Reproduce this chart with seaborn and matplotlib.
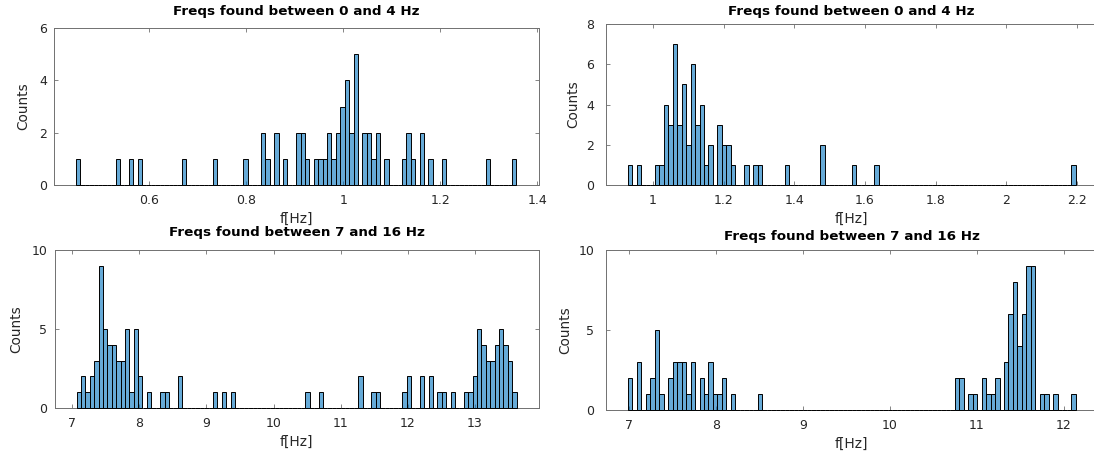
import numpy as np
import pandas as pd
import matplotlib
matplotlib.use("Agg")
import matplotlib.pyplot as plt
import seaborn as sns

# Bin counts: 100 equal-width bins spanning [low, high] of each frequency set
counts_top_left = [
    1, 0, 0, 0, 0, 0, 0, 0, 0, 1,
    0, 0, 1, 0, 1, 0, 0, 0, 0, 0,
    0, 0, 0, 0, 1, 0, 0, 0, 0, 0,
    0, 1, 0, 0, 0, 0, 0, 0, 1, 0,
    0, 0, 2, 1, 0, 2, 0, 1, 0, 0,
    2, 2, 1, 0, 1, 1, 1, 2, 1, 2,
    3, 4, 2, 5, 0, 2, 2, 1, 2, 0,
    1, 0, 0, 0, 1, 2, 1, 0, 2, 0,
    1, 0, 0, 1, 0, 0, 0, 0, 0, 0,
    0, 0, 0, 1, 0, 0, 0, 0, 0, 1,
]
counts_top_right = [
    1, 0, 1, 0, 0, 0, 1, 1, 4, 3,
    7, 3, 5, 2, 6, 3, 4, 1, 2, 0,
    3, 2, 2, 1, 0, 0, 1, 0, 1, 1,
    0, 0, 0, 0, 0, 1, 0, 0, 0, 0,
    0, 0, 0, 2, 0, 0, 0, 0, 0, 0,
    1, 0, 0, 0, 0, 1, 0, 0, 0, 0,
    0, 0, 0, 0, 0, 0, 0, 0, 0, 0,
    0, 0, 0, 0, 0, 0, 0, 0, 0, 0,
    0, 0, 0, 0, 0, 0, 0, 0, 0, 0,
    0, 0, 0, 0, 0, 0, 0, 0, 0, 1,
]
counts_bottom_left = [
    1, 2, 1, 2, 3, 9, 5, 4, 4, 3,
    3, 5, 1, 5, 2, 0, 1, 0, 0, 1,
    1, 0, 0, 2, 0, 0, 0, 0, 0, 0,
    0, 1, 0, 1, 0, 1, 0, 0, 0, 0,
    0, 0, 0, 0, 0, 0, 0, 0, 0, 0,
    0, 0, 1, 0, 0, 1, 0, 0, 0, 0,
    0, 0, 0, 0, 2, 0, 0, 1, 1, 0,
    0, 0, 0, 0, 1, 2, 0, 0, 2, 0,
    2, 0, 1, 1, 0, 1, 0, 0, 1, 1,
    2, 5, 4, 3, 3, 4, 5, 4, 3, 1,
]
counts_bottom_right = [
    2, 0, 3, 0, 1, 2, 5, 1, 0, 2,
    3, 3, 3, 1, 3, 0, 2, 1, 3, 1,
    1, 2, 0, 1, 0, 0, 0, 0, 0, 1,
    0, 0, 0, 0, 0, 0, 0, 0, 0, 0,
    0, 0, 0, 0, 0, 0, 0, 0, 0, 0,
    0, 0, 0, 0, 0, 0, 0, 0, 0, 0,
    0, 0, 0, 0, 0, 0, 0, 0, 0, 0,
    0, 0, 0, 2, 2, 0, 1, 1, 0, 2,
    1, 1, 2, 0, 3, 6, 8, 4, 6, 9,
    9, 0, 1, 1, 0, 1, 0, 0, 0, 1,
]

# Data range covered by the bins of each set
range_top_left = [0.4493, 1.3567]
range_top_right = [0.9291, 2.1963]
range_bottom_left = [7.0638, 13.6187]
range_bottom_right = [6.9885, 12.1384]

titles = ["Freqs found between 0 and 4 Hz", "Freqs found between 0 and 4 Hz",
          "Freqs found between 7 and 16 Hz", "Freqs found between 7 and 16 Hz"]

xticks_top_left = [0.6, 0.8, 1.0, 1.2, 1.4]
xticklabels_top_left = ["0.6", "0.8", "1", "1.2", "1.4"]
xticks_top_right = [1.0, 1.2, 1.4, 1.6, 1.8, 2.0, 2.2]
xticklabels_top_right = ["1", "1.2", "1.4", "1.6", "1.8", "2", "2.2"]
xticks_bottom_left = [7, 8, 9, 10, 11, 12, 13]
xticks_bottom_right = [7, 8, 9, 10, 11, 12]

yticks_top_left = [0, 2, 4, 6]
yticks_top_right = [0, 2, 4, 6, 8]
yticks_bottom = [0, 5, 10]

sns.set_theme(style="white")
plt.rcParams["font.family"] = ["DejaVu Sans"]

W, H = 1094, 457
fig = plt.figure(figsize=(W / 100, H / 100), dpi=100)
fig.patch.set_facecolor("white")


def px_rect(left, top, right, bottom):
    return [left / W, (H - bottom) / H, (right - left) / W, (bottom - top) / H]


panels = [
    dict(counts=counts_top_left, rng=range_top_left, title=titles[0],
         xt=xticks_top_left, xtl=xticklabels_top_left, yt=yticks_top_left,
         rect=px_rect(54, 28, 538.5, 185), tpad=9.5, ypad=5.2, ylpad=6.0),
    dict(counts=counts_top_right, rng=range_top_right, title=titles[1],
         xt=xticks_top_right, xtl=xticklabels_top_right, yt=yticks_top_right,
         rect=px_rect(605.5, 24, 1098, 185), tpad=6.8, ypad=8.2, ylpad=4.0),
    dict(counts=counts_bottom_left, rng=range_bottom_left, title=titles[2],
         xt=xticks_bottom_left, xtl=[str(v) for v in xticks_bottom_left],
         yt=yticks_bottom, rect=px_rect(54.5, 250, 538.5, 408),
         tpad=10.0, ypad=5.2, ylpad=6.0),
    dict(counts=counts_bottom_right, rng=range_bottom_right, title=titles[3],
         xt=xticks_bottom_right, xtl=[str(v) for v in xticks_bottom_right],
         yt=yticks_bottom, rect=px_rect(605.5, 250, 1098, 410),
         tpad=7.2, ypad=8.2, ylpad=4.0),
]

face = "#0072BD"
text_col = "#262626"
axis_col = "#707070"

for p in panels:
    ax = fig.add_axes(p["rect"])
    counts = np.asarray(p["counts"], dtype=float)
    lo, hi = p["rng"]
    edges = np.linspace(lo, hi, len(counts) + 1)
    centers = 0.5 * (edges[:-1] + edges[1:])
    df = pd.DataFrame({"f": centers, "n": counts})

    sns.histplot(data=df, x="f", weights="n", bins=list(edges), ax=ax,
                 color=face, alpha=0.6, edgecolor="black", linewidth=0.7)
    # empty bins leave a black outline along zero, drawn above the axis line
    for patch in ax.patches:
        patch.set_clip_on(False)
        patch.set_zorder(3)

    span = hi - lo
    ax.set_xlim(lo - 0.05 * span, hi + 0.05 * span)
    ax.set_ylim(p["yt"][0], p["yt"][-1])
    ax.set_xticks(p["xt"])
    ax.set_xticklabels(p["xtl"])
    ax.set_yticks(p["yt"])
    ax.set_yticklabels([str(v) for v in p["yt"]])

    ax.tick_params(direction="in", length=3, width=0.6, colors=axis_col,
                   labelcolor=text_col, labelsize=9.0, top=True, right=True,
                   bottom=True, left=True)
    ax.tick_params(axis="x", pad=6.8)
    ax.tick_params(axis="y", pad=p["ypad"])
    for s in ax.spines.values():
        s.set_color(axis_col)
        s.set_linewidth(0.7)

    ax.set_xlabel("f[Hz]", fontsize=9.9, color=text_col, labelpad=3.5)
    ax.set_ylabel("Counts", fontsize=9.9, color=text_col, labelpad=p["ylpad"])
    ax.set_title(p["title"], fontsize=9.7, fontweight="bold", color="black",
                 pad=p["tpad"])

fig.savefig("out.png", dpi=100, facecolor="white")
